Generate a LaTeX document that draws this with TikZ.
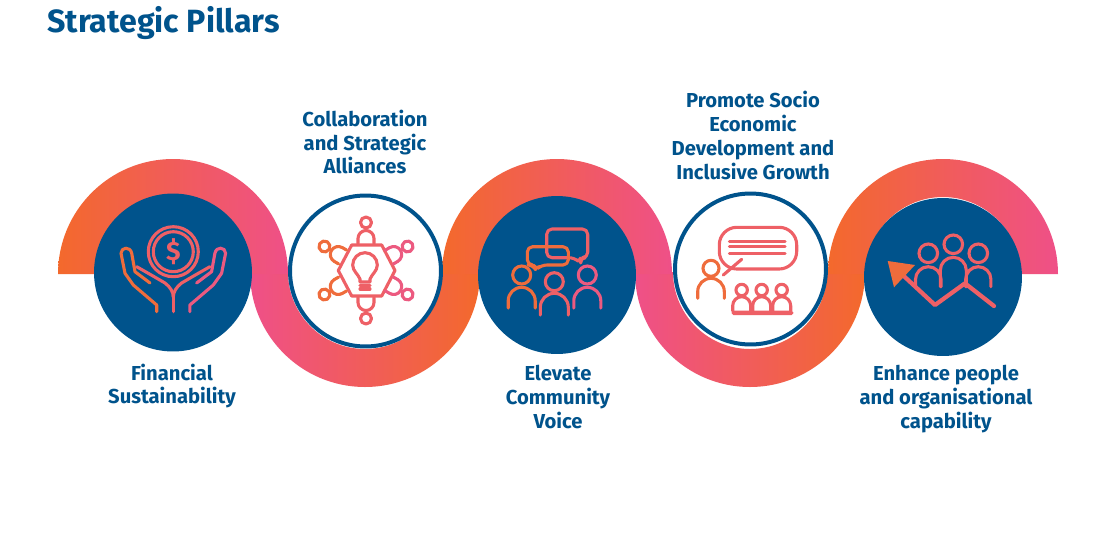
\documentclass[tikz,border=0pt]{standalone}
\usepackage{fontspec}
\setmainfont{Fira Sans}
\definecolor{pillarblue}{HTML}{00538C}
\definecolor{ribbonorange}{HTML}{F3692C}
\definecolor{ribbonpink}{HTML}{EF5088}
\definecolor{iconorange}{HTML}{EF6C3C}
\definecolor{iconcoral}{HTML}{EE6066}
\definecolor{iconpink}{HTML}{EC5A80}
\tikzset{
  pillardark/.style={circle, fill=pillarblue, inner sep=0pt, minimum size=3.16cm},
  pillarlight/.style={circle, draw=pillarblue, fill=white, line width=0.08cm, inner sep=0pt, minimum size=3.02cm},
  pillarlabel/.style={text=pillarblue, align=center, inner sep=0pt, font=\bfseries\fontsize{11.5}{13.6}\selectfont},
  iconline/.style={line width=0.062cm, line cap=round, line join=round}
}
% top and bottom half of the ribbon, first argument is the centre
\newcommand{\archup}[1]{\path[left color=ribbonorange, right color=ribbonpink] (#1-115,-274) arc (180:0:115) -- (#1+77,-274) arc (0:180:77) -- cycle;}
\newcommand{\archdown}[1]{\path[left color=ribbonpink, right color=ribbonorange] (#1-115,-272) arc (180:360:115) -- (#1+77,-272) arc (360:180:77) -- cycle;}
% head and body of one person: x, y, head radius, half width, body top, body bottom
\newcommand{\drawperson}[7][]{\begin{scope}[shift={(#2,#3)}]
  \draw[iconline, #1] (0,0) circle[radius=#4];
  \draw[iconline, #1] (-#5,#7) -- (-#5,#6-#5) arc (180:0:#5) -- (#5,#7);
\end{scope}}
\begin{document}
\begin{tikzpicture}[x=0.02cm, y=0.02cm]
\useasboundingbox (0,0) rectangle (1103,-535);
\fill[white] (0,0) rectangle (1103,-535);
\node[anchor=west, text=pillarblue, inner sep=0pt, font=\bfseries\fontsize{18.3}{20}\selectfont] (title) at (47,-23.5) {Strategic Pillars};

% ribbon
\archdown{365}
\archdown{750}
\archup{173}
\archup{557}
\archup{943}

% circles
\node[pillardark] (financial) at (173,-272.5) {};
\node[pillarlight] (alliances) at (365.5,-271) {};
\node[pillardark] (community) at (557,-275) {};
\node[pillarlight] (socio) at (750.5,-269) {};
\node[pillardark] (people) at (943,-277) {};

% labels
\node[pillarlabel] (financialtext) at (172,-386) {Financial\\Sustainability};
\node[pillarlabel] (alliancestext) at (365,-142) {Collaboration\\and Strategic\\Alliances};
\node[pillarlabel] (communitytext) at (558,-397) {Elevate\\Community\\Voice};
\node[pillarlabel] (sociotext) at (753,-135.5) {Promote Socio\\Economic\\Development and\\Inclusive Growth};
\node[pillarlabel] (peopletext) at (946,-399) {Enhance people\\and organisational\\capability};

% hands and coin
\draw[iconline, iconcoral] (173.3,-251.7) circle[radius=25];
\draw[iconline, iconcoral] (173.3,-251.7) circle[radius=20];
\node[text=iconcoral, inner sep=0pt, font=\bfseries\fontsize{15}{15}\selectfont] (dollar) at (173.3,-252) {\$};
\foreach \s/\c in {1/iconorange,-1/iconpink}{
  \begin{scope}[shift={(173.3,0)}, xscale=\s]
    \draw[iconline, \c] (-16.6,-311.7) -- (-16.6,-305) -- (-40,-285) -- (-48.3,-273.3) -- (-52.3,-253.3) .. controls (-52.3,-247) and (-43,-246) .. (-41.6,-253.3) -- (-38.3,-271.7) -- (-23.3,-283);
    \draw[iconline, iconcoral] (-36.6,-266.7) -- (-20.3,-276) -- (-8.3,-283) .. controls (-3,-287) and (0,-292) .. (0,-297);
  \end{scope}
}
\draw[iconline, iconcoral] (173.3,-297) -- (173.3,-311.7);

% hexagon, bulb and people round it
\draw[iconline, iconcoral] (338.3,-270.5) -- (351.7,-245) -- (381.7,-245) -- (395,-270.5) -- (381.7,-296) -- (351.7,-296) -- cycle;
\draw[iconline, iconcoral] (360,-282) -- (360,-279) .. controls (358,-274) and (352.7,-271) .. (352.7,-265) arc (180:0:12.3) .. controls (377.3,-271) and (372,-274) .. (370,-279) -- (370,-282) -- cycle;
\draw[iconline, iconcoral] (360,-285.5) -- (370,-285.5);
\draw[iconline, iconcoral] (360,-289) -- (370,-289);
\foreach \a/\c in {0/iconcoral,60/iconorange,120/iconorange,180/iconcoral,240/iconpink,300/iconpink}{
  \begin{scope}[shift={(366,-270.5)}, rotate=\a]
    \draw[iconline, \c] (0,48) circle[radius=5.5];
    \draw[iconline, \c] (-8,27) -- (-8,32) arc (180:0:8) -- (8,27);
  \end{scope}
}

% speech bubbles and three people
\draw[iconline, iconcoral, rounded corners=3] (546.7,-229) -- (587.7,-229) -- (587.7,-257.7) -- (580,-257.7) -- (580.7,-263.3) -- (574.3,-257.7) -- (546.7,-257.7) -- cycle;
\draw[iconline, iconorange, rounded corners=3] (527.3,-246.7) -- (568.3,-246.7) -- (568.3,-265) -- (541.7,-265) -- (535.7,-270) -- (533.3,-265) -- (527.3,-265) -- cycle;
\drawperson[iconorange]{521.7}{-275}{9}{13.5}{-12.3}{-33}
\drawperson[iconcoral]{554.3}{-281.7}{9}{14}{-11.6}{-33.3}
\drawperson[iconpink]{587.3}{-275}{9}{13.5}{-12.3}{-33}

% presenter and audience
\draw[iconline, iconcoral, rounded corners=10] (719.3,-227.3) rectangle (796.7,-269);
\draw[iconline, iconcoral] (729.3,-241.7) -- (785,-241.7);
\draw[iconline, iconcoral] (729.3,-246.7) -- (785,-246.7);
\draw[iconline, iconcoral] (729.3,-253.3) -- (785,-253.3);
\draw[iconline, iconcoral] (723.3,-275) -- (741.7,-259.3);
\drawperson[iconorange]{711}{-268.3}{8}{13.3}{-10}{-30}
\drawperson[iconcoral]{741.7}{-290}{5.7}{9}{-6.7}{-21}
\drawperson[iconcoral]{761.7}{-290}{5.7}{9}{-6.7}{-21}
\drawperson[iconcoral]{781.7}{-290}{5.7}{9}{-6.7}{-21}
\fill[iconcoral, rounded corners=1] (731.7,-310.7) rectangle (793.3,-315);

% people and growth arrow
\drawperson[iconcoral]{928.3}{-253.3}{9.3}{12.8}{-13.4}{-33.4}
\drawperson[iconcoral]{953.3}{-244.3}{9.3}{13}{-13}{-42.4}
\drawperson[iconcoral]{978.3}{-253.3}{9.3}{12.6}{-13.4}{-33.4}
\draw[iconline, iconcoral, line width=0.085cm] (893,-266) -- (935,-305) -- (965,-283.3) -- (994,-306);
\fill[iconorange] (887.7,-261) -- (915,-265) -- (894,-287.3) -- cycle;
\end{tikzpicture}
\end{document}
